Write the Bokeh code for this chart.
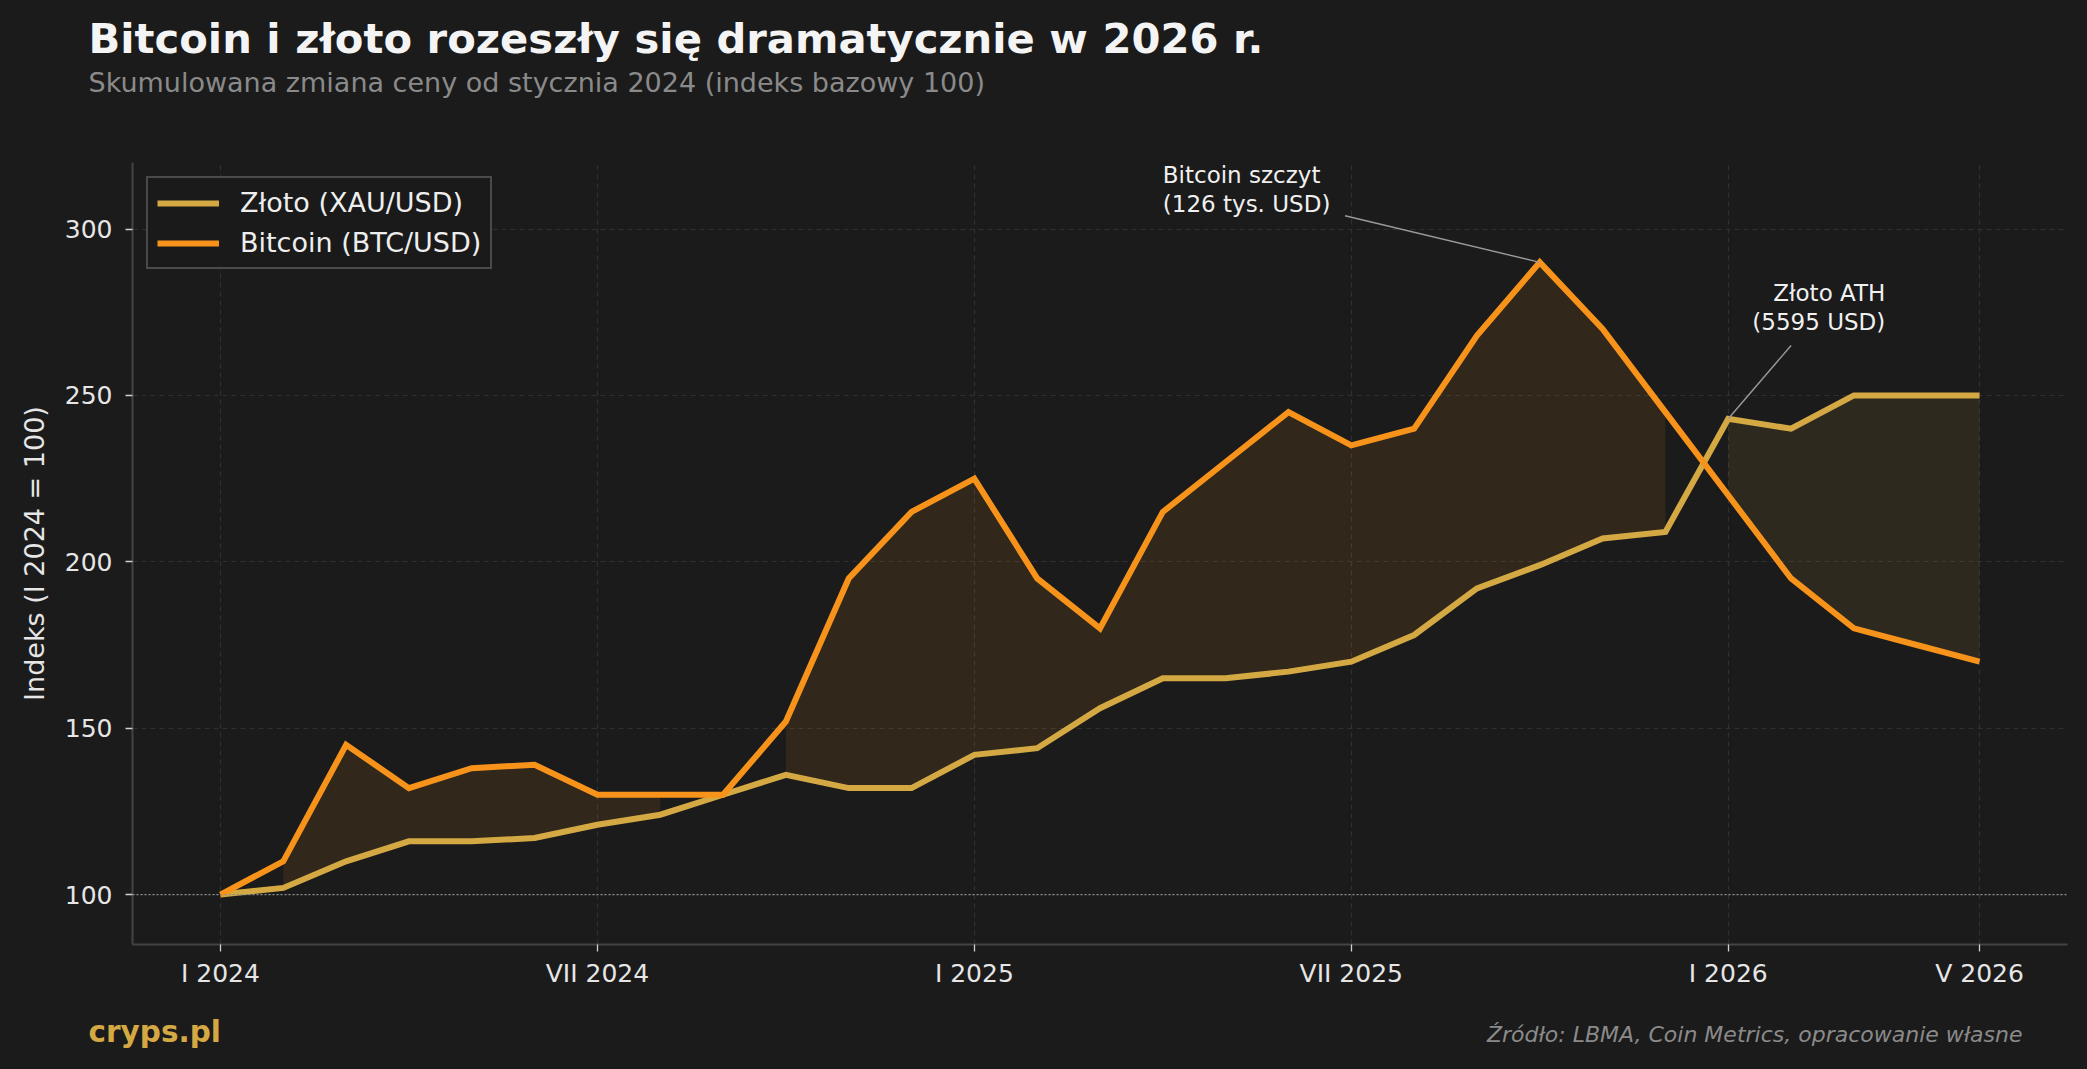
import numpy as np
from bokeh.plotting import figure
from bokeh.layouts import column
from bokeh.models import (ColumnDataSource, FixedTicker, Label, Legend, LegendItem,
                          Span, Range1d)
from bokeh.embed import file_html
from bokeh.resources import INLINE

# Monthly closes, Jan 2024 .. May 2026, indexed to Jan 2024 = 100
MONTHS = ["I 2024", "II 2024", "III 2024", "IV 2024", "V 2024", "VI 2024",
          "VII 2024", "VIII 2024", "IX 2024", "X 2024", "XI 2024", "XII 2024",
          "I 2025", "II 2025", "III 2025", "IV 2025", "V 2025", "VI 2025",
          "VII 2025", "VIII 2025", "IX 2025", "X 2025", "XI 2025", "XII 2025",
          "I 2026", "II 2026", "III 2026", "IV 2026", "V 2026"]
GOLD = [100, 102, 110, 116, 116, 117, 121, 124, 130, 136, 132, 132,
        142, 144, 156, 165, 165, 167, 170, 178, 192, 199, 207, 209,
        243, 240, 250, 250, 250]
BTC = [100, 110, 145, 132, 138, 139, 130, 130, 130, 152, 195, 215,
       225, 195, 180, 215, 230, 245, 235, 240, 268, 290, 270, 245,
       220, 195, 180, 175, 170]
TICK_LABELS = ["I 2024", "VII 2024", "I 2025", "VII 2025", "I 2026", "V 2026"]
Y_TICKS = [100, 150, 200, 250, 300]
BASE = 100

BG = "#1b1b1b"
GOLD_C = "#d4a843"
BTC_C = "#f7931a"
FONT = "DejaVu Sans"

W = 2087
LEFT, RIGHT = 132, 20
HEAD_H, MAIN_H, FOOT_H = 130, 875, 64

x = np.arange(len(MONTHS))
gold = np.array(GOLD, dtype=float)
btc = np.array(BTC, dtype=float)


def no_align(f):
    """Keep a figure's frame independent of its neighbours in the column."""
    if "frame_align" in f.properties():
        f.frame_align = False
    return f


def banner(height):
    """Axis-less full-width strip; data units are page pixels (x from left, y from top)."""
    f = figure(frame_width=W, frame_height=height, output_backend="svg",
               toolbar_location=None,
               x_range=Range1d(0, W), y_range=Range1d(height, 0),
               x_axis_location=None, y_axis_location=None,
               background_fill_color=BG, border_fill_color=BG, min_border=0,
               min_border_left=0, min_border_right=0, min_border_top=0,
               min_border_bottom=0)
    f.outline_line_color = None
    f.grid.visible = False
    f.title.visible = False
    return no_align(f)


def line_of_text(x0, baseline, size, **kw):
    """Label anchored on its text baseline (size in px)."""
    return Label(x=x0, y=baseline - 0.4 * size, text_font=FONT,
                 text_font_size="%gpx" % size, text_baseline="alphabetic", **kw)


# ---- heading
head = banner(HEAD_H)
head.add_layout(line_of_text(88, 55, 41.7,
                             text="Bitcoin i złoto rozeszły się dramatycznie w 2026 r.",
                             text_font_style="bold", text_color="#f4f4f4"))
head.add_layout(line_of_text(88, 93, 27,
                             text="Skumulowana zmiana ceny od stycznia 2024 (indeks bazowy 100)",
                             text_color="#8a8a8a"))

# ---- main chart
p = figure(width=W, height=MAIN_H, output_backend="svg", toolbar_location=None,
           x_range=Range1d(-1.4, len(MONTHS) - 1 + 1.4), y_range=Range1d(85, 320),
           background_fill_color=BG, border_fill_color=BG,
           min_border_left=LEFT, min_border_right=RIGHT,
           min_border_top=32, min_border_bottom=61)
p.outline_line_color = None
p.title.visible = False
no_align(p)


def runs(mask):
    """Contiguous stretches of True in a boolean array, as index arrays."""
    out, cur = [], []
    for i, m in enumerate(mask):
        if m:
            cur.append(i)
        elif cur:
            out.append(np.array(cur)); cur = []
    if cur:
        out.append(np.array(cur))
    return out


# shaded spread between the two series
for idx in runs(btc > gold):
    p.varea(x=x[idx], y1=gold[idx], y2=btc[idx], fill_color=BTC_C, fill_alpha=0.1)
for idx in runs(gold > btc):
    p.varea(x=x[idx], y1=btc[idx], y2=gold[idx], fill_color=GOLD_C, fill_alpha=0.1)

p.add_layout(Span(location=BASE, dimension="width", line_color="#8c8c8c",
                  line_dash="2 2", line_width=1.3))

src = ColumnDataSource(dict(x=x, gold=gold, btc=btc))
r_gold = p.line("x", "gold", source=src, line_color=GOLD_C, line_width=6,
                line_join="miter")
r_btc = p.line("x", "btc", source=src, line_color=BTC_C, line_width=6,
               line_join="miter")

# axes
tick_pos = [MONTHS.index(t) for t in TICK_LABELS]
p.xaxis.ticker = FixedTicker(ticks=tick_pos)
p.xaxis.major_label_overrides = {i: MONTHS[i] for i in tick_pos}
p.yaxis.ticker = FixedTicker(ticks=Y_TICKS)
p.yaxis.axis_label = "Indeks (I 2024 = 100)"
for ax in (p.xaxis[0], p.yaxis[0]):
    ax.axis_line_color = "#444444"
    ax.axis_line_width = 2
    ax.major_tick_line_color = "#d0d0d0"
    ax.major_tick_line_width = 1.3
    ax.major_tick_out = 7
    ax.major_tick_in = 0
    ax.minor_tick_line_color = None
    ax.major_label_text_color = "#e6e6e6"
    ax.major_label_text_font = FONT
    ax.major_label_text_font_size = "25px"
p.xaxis.major_label_standoff = 7
p.yaxis.major_label_standoff = 13
p.yaxis.axis_label_text_color = "#e6e6e6"
p.yaxis.axis_label_text_font = FONT
p.yaxis.axis_label_text_font_size = "27px"
p.yaxis.axis_label_text_font_style = "normal"
p.yaxis.axis_label_standoff = 12

p.grid.grid_line_color = "#303030"
p.grid.grid_line_dash = "5 4"
p.grid.grid_line_width = 1.2
p.xgrid.ticker = FixedTicker(ticks=tick_pos)
p.ygrid.ticker = FixedTicker(ticks=Y_TICKS)

legend = Legend(items=[LegendItem(label="Złoto (XAU/USD)", renderers=[r_gold]),
                       LegendItem(label="Bitcoin (BTC/USD)", renderers=[r_btc])],
                location="top_left", margin=14, padding=9, spacing=9,
                glyph_width=62, glyph_height=28, label_height=28, label_standoff=21,
                background_fill_color=BG, background_fill_alpha=0.9,
                border_line_color="#7a7a7a", border_line_width=2,
                label_text_color="#eeeeee", label_text_font=FONT,
                label_text_font_size="27px")
p.add_layout(legend)

# callouts
peak = int(np.argmax(btc))
ath = MONTHS.index("I 2026")
p.segment(x0=[17.9], y0=[304], x1=[x[peak]], y1=[btc[peak]],
          line_color="#9a9a9a", line_width=1.4)
p.segment(x0=[25.0], y0=[265], x1=[x[ath]], y1=[gold[ath]],
          line_color="#9a9a9a", line_width=1.4)
p.add_layout(Label(x=15.0, y=303.5, text="Bitcoin szczyt\n(126 tys. USD)",
                   text_align="left", text_baseline="bottom", text_color="#f0f0f0",
                   text_font=FONT, text_font_size="23px", text_line_height=1.12))
p.add_layout(Label(x=26.5, y=268.2, text="Złoto ATH\n(5595 USD)",
                   text_align="right", text_baseline="bottom", text_color="#f0f0f0",
                   text_font=FONT, text_font_size="23px", text_line_height=1.12))

# ---- footer
foot = banner(FOOT_H)
foot.add_layout(line_of_text(88, 38, 29.5, text="cryps.pl", text_font_style="bold",
                             text_color=GOLD_C))
foot.add_layout(line_of_text(2022, 38, 22,
                             text="Źródło: LBMA, Coin Metrics, opracowanie własne",
                             text_font_style="italic", text_color="#8a8a8a",
                             text_align="right"))

page = column(head, p, foot, spacing=0)
html = file_html(page, INLINE, title="Bitcoin i złoto")
html = html.replace("<head>", "<head><style>html,body{margin:0;padding:0;"
                    "background:%s;}</style>" % BG, 1)
open("out.html", "w").write(html)
